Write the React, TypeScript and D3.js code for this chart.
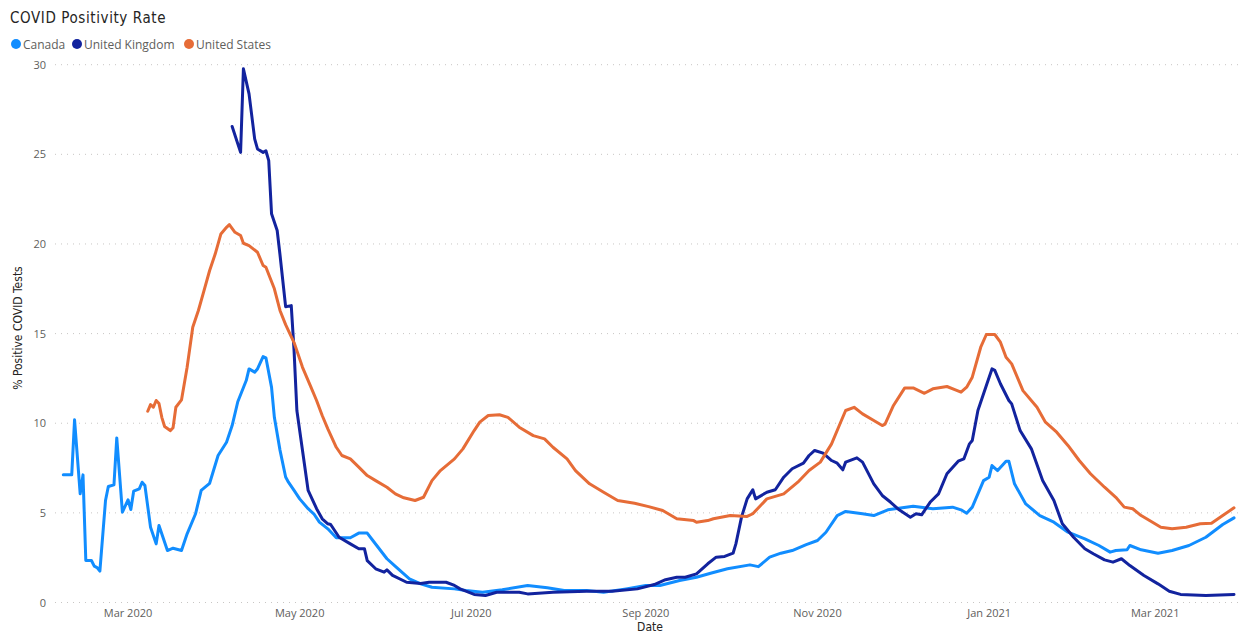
import React from "react";
import * as d3 from "d3";

// Daily positivity rate (% of COVID tests positive), smoothed series
const canadaRates: [string, number][] = [
  ["2020-02-07", 7.12], ["2020-02-10", 7.12], ["2020-02-11", 10.19], ["2020-02-13", 6.06],
  ["2020-02-14", 7.12], ["2020-02-15", 2.34], ["2020-02-17", 2.34], ["2020-02-18", 2.03],
  ["2020-02-19", 1.95], ["2020-02-20", 1.75], ["2020-02-22", 5.69], ["2020-02-23", 6.47],
  ["2020-02-25", 6.56], ["2020-02-26", 9.18], ["2020-02-28", 5.04], ["2020-03-01", 5.73],
  ["2020-03-02", 5.19], ["2020-03-03", 6.21], ["2020-03-05", 6.34], ["2020-03-06", 6.71],
  ["2020-03-07", 6.53], ["2020-03-09", 4.2], ["2020-03-11", 3.27], ["2020-03-12", 4.29],
  ["2020-03-15", 2.9], ["2020-03-17", 3.03], ["2020-03-20", 2.9], ["2020-03-22", 3.83],
  ["2020-03-25", 4.95], ["2020-03-27", 6.25], ["2020-03-30", 6.65], ["2020-04-02", 8.2],
  ["2020-04-05", 8.94], ["2020-04-07", 9.87], ["2020-04-09", 11.2], ["2020-04-12", 12.38],
  ["2020-04-13", 13.03], ["2020-04-15", 12.85], ["2020-04-16", 13.03], ["2020-04-18", 13.72],
  ["2020-04-19", 13.65], ["2020-04-21", 12.0], ["2020-04-22", 10.33], ["2020-04-24", 8.5],
  ["2020-04-26", 7.0], ["2020-04-27", 6.71], ["2020-04-29", 6.25], ["2020-05-01", 5.78],
  ["2020-05-04", 5.23], ["2020-05-06", 4.95], ["2020-05-08", 4.48], ["2020-05-11", 4.11],
  ["2020-05-14", 3.61], ["2020-05-19", 3.61], ["2020-05-22", 3.87], ["2020-05-25", 3.87],
  ["2020-05-27", 3.46], ["2020-06-01", 2.44], ["2020-06-04", 2.01], ["2020-06-09", 1.32],
  ["2020-06-13", 1.04], ["2020-06-17", 0.85], ["2020-06-25", 0.76], ["2020-06-29", 0.67],
  ["2020-07-05", 0.57], ["2020-07-12", 0.71], ["2020-07-21", 0.95], ["2020-07-28", 0.82],
  ["2020-08-03", 0.67], ["2020-08-11", 0.67], ["2020-08-17", 0.57], ["2020-08-25", 0.76],
  ["2020-09-01", 0.95], ["2020-09-06", 0.95], ["2020-09-13", 1.23], ["2020-09-19", 1.41],
  ["2020-09-24", 1.63], ["2020-09-30", 1.88], ["2020-10-08", 2.1], ["2020-10-11", 2.0],
  ["2020-10-15", 2.53], ["2020-10-19", 2.75], ["2020-10-23", 2.9], ["2020-10-28", 3.23],
  ["2020-11-01", 3.46], ["2020-11-04", 3.92], ["2020-11-08", 4.85], ["2020-11-11", 5.08],
  ["2020-11-17", 4.95], ["2020-11-21", 4.85], ["2020-11-26", 5.17], ["2020-12-05", 5.37],
  ["2020-12-12", 5.23], ["2020-12-19", 5.32], ["2020-12-22", 5.17], ["2020-12-24", 4.98],
  ["2020-12-26", 5.32], ["2020-12-30", 6.8], ["2021-01-01", 6.99], ["2021-01-02", 7.64],
  ["2021-01-04", 7.36], ["2021-01-07", 7.88], ["2021-01-08", 7.88], ["2021-01-10", 6.62],
  ["2021-01-14", 5.5], ["2021-01-19", 4.85], ["2021-01-24", 4.48], ["2021-01-29", 3.92],
  ["2021-02-04", 3.55], ["2021-02-09", 3.18], ["2021-02-13", 2.81], ["2021-02-15", 2.9],
  ["2021-02-19", 2.94], ["2021-02-20", 3.18], ["2021-02-24", 2.94], ["2021-03-02", 2.75],
  ["2021-03-07", 2.9], ["2021-03-13", 3.18], ["2021-03-19", 3.64], ["2021-03-25", 4.35],
  ["2021-03-29", 4.72],
];

const ukRates: [string, number][] = [
  ["2020-04-07", 26.55], ["2020-04-10", 25.11], ["2020-04-11", 29.77], ["2020-04-13", 28.37],
  ["2020-04-15", 25.86], ["2020-04-16", 25.3], ["2020-04-18", 25.11], ["2020-04-19", 25.2],
  ["2020-04-20", 24.65], ["2020-04-21", 21.68], ["2020-04-23", 20.75], ["2020-04-24", 19.4],
  ["2020-04-26", 16.5], ["2020-04-28", 16.56], ["2020-04-29", 14.05], ["2020-04-30", 10.71],
  ["2020-05-02", 8.48], ["2020-05-04", 6.25], ["2020-05-07", 5.23], ["2020-05-09", 4.67],
  ["2020-05-11", 4.39], ["2020-05-12", 4.35], ["2020-05-15", 3.64], ["2020-05-19", 3.27],
  ["2020-05-22", 3.0], ["2020-05-24", 3.0], ["2020-05-25", 2.34], ["2020-05-28", 1.88],
  ["2020-05-31", 1.69], ["2020-06-01", 1.82], ["2020-06-03", 1.51], ["2020-06-08", 1.13],
  ["2020-06-13", 1.06], ["2020-06-16", 1.13], ["2020-06-22", 1.13], ["2020-06-25", 0.95],
  ["2020-06-27", 0.76], ["2020-07-02", 0.45], ["2020-07-06", 0.39], ["2020-07-10", 0.57],
  ["2020-07-18", 0.57], ["2020-07-21", 0.48], ["2020-07-30", 0.57], ["2020-08-11", 0.63],
  ["2020-08-20", 0.63], ["2020-08-29", 0.76], ["2020-09-04", 1.0], ["2020-09-08", 1.27],
  ["2020-09-12", 1.41], ["2020-09-15", 1.41], ["2020-09-19", 1.6], ["2020-09-23", 2.16],
  ["2020-09-26", 2.53], ["2020-09-29", 2.57], ["2020-10-02", 2.75], ["2020-10-03", 3.27],
  ["2020-10-05", 4.76], ["2020-10-07", 5.78], ["2020-10-09", 6.29], ["2020-10-10", 5.78],
  ["2020-10-14", 6.15], ["2020-10-17", 6.29], ["2020-10-20", 6.99], ["2020-10-23", 7.46],
  ["2020-10-27", 7.77], ["2020-10-29", 8.2], ["2020-10-31", 8.48], ["2020-11-03", 8.33],
  ["2020-11-06", 7.92], ["2020-11-08", 7.77], ["2020-11-10", 7.4], ["2020-11-11", 7.83],
  ["2020-11-15", 8.07], ["2020-11-17", 7.83], ["2020-11-21", 6.62], ["2020-11-24", 5.97],
  ["2020-11-27", 5.59], ["2020-11-30", 5.17], ["2020-12-04", 4.76], ["2020-12-06", 4.95],
  ["2020-12-08", 4.89], ["2020-12-11", 5.59], ["2020-12-14", 6.06], ["2020-12-17", 7.18],
  ["2020-12-21", 7.88], ["2020-12-23", 8.01], ["2020-12-25", 8.85], ["2020-12-26", 9.04],
  ["2020-12-28", 10.71], ["2020-12-31", 12.1], ["2021-01-02", 13.03], ["2021-01-03", 12.95],
  ["2021-01-05", 12.2], ["2021-01-08", 11.27], ["2021-01-09", 11.08], ["2021-01-12", 9.59],
  ["2021-01-16", 8.57], ["2021-01-20", 6.8], ["2021-01-24", 5.69], ["2021-01-27", 4.39],
  ["2021-01-31", 3.64], ["2021-02-04", 3.0], ["2021-02-07", 2.72], ["2021-02-11", 2.38],
  ["2021-02-14", 2.25], ["2021-02-17", 2.44], ["2021-02-20", 2.06], ["2021-02-25", 1.51],
  ["2021-03-02", 1.04], ["2021-03-06", 0.63], ["2021-03-10", 0.45], ["2021-03-19", 0.39],
  ["2021-03-29", 0.45],
];

const usRates: [string, number][] = [
  ["2020-03-08", 10.67], ["2020-03-09", 11.04], ["2020-03-10", 10.89], ["2020-03-11", 11.27],
  ["2020-03-12", 11.1], ["2020-03-13", 10.33], ["2020-03-14", 9.82], ["2020-03-16", 9.59],
  ["2020-03-17", 9.75], ["2020-03-18", 10.89], ["2020-03-20", 11.3], ["2020-03-22", 13.12],
  ["2020-03-24", 15.35], ["2020-03-26", 16.29], ["2020-03-28", 17.4], ["2020-03-30", 18.52],
  ["2020-04-01", 19.45], ["2020-04-03", 20.56], ["2020-04-05", 20.93], ["2020-04-06", 21.08],
  ["2020-04-08", 20.65], ["2020-04-10", 20.47], ["2020-04-11", 20.04], ["2020-04-13", 19.91],
  ["2020-04-16", 19.54], ["2020-04-18", 18.8], ["2020-04-19", 18.7], ["2020-04-22", 17.5],
  ["2020-04-24", 16.29], ["2020-04-26", 15.5], ["2020-04-29", 14.5], ["2020-04-30", 14.05],
  ["2020-05-02", 13.12], ["2020-05-05", 12.01], ["2020-05-07", 11.27], ["2020-05-09", 10.43],
  ["2020-05-11", 9.69], ["2020-05-14", 8.66], ["2020-05-16", 8.2], ["2020-05-19", 8.01],
  ["2020-05-22", 7.55], ["2020-05-25", 7.08], ["2020-05-28", 6.8], ["2020-06-01", 6.43],
  ["2020-06-04", 6.06], ["2020-06-07", 5.84], ["2020-06-11", 5.69], ["2020-06-14", 5.87],
  ["2020-06-17", 6.8], ["2020-06-20", 7.36], ["2020-06-25", 8.01], ["2020-06-28", 8.57],
  ["2020-07-02", 9.59], ["2020-07-04", 10.06], ["2020-07-07", 10.43], ["2020-07-11", 10.47],
  ["2020-07-14", 10.33], ["2020-07-18", 9.78], ["2020-07-23", 9.31], ["2020-07-27", 9.13],
  ["2020-07-30", 8.66], ["2020-08-04", 8.01], ["2020-08-07", 7.36], ["2020-08-12", 6.62],
  ["2020-08-17", 6.15], ["2020-08-22", 5.69], ["2020-08-28", 5.54], ["2020-09-02", 5.35],
  ["2020-09-07", 5.13], ["2020-09-12", 4.67], ["2020-09-18", 4.57], ["2020-09-19", 4.48],
  ["2020-09-23", 4.57], ["2020-09-25", 4.67], ["2020-10-01", 4.85], ["2020-10-07", 4.8],
  ["2020-10-09", 4.95], ["2020-10-14", 5.78], ["2020-10-20", 6.06], ["2020-10-25", 6.71],
  ["2020-10-29", 7.36], ["2020-11-02", 7.83], ["2020-11-06", 8.85], ["2020-11-09", 9.97],
  ["2020-11-11", 10.71], ["2020-11-14", 10.89], ["2020-11-17", 10.52], ["2020-11-21", 10.15],
  ["2020-11-24", 9.87], ["2020-11-25", 9.95], ["2020-11-28", 10.99], ["2020-12-02", 11.97],
  ["2020-12-05", 11.97], ["2020-12-09", 11.67], ["2020-12-12", 11.92], ["2020-12-17", 12.05],
  ["2020-12-20", 11.86], ["2020-12-22", 11.73], ["2020-12-24", 12.01], ["2020-12-26", 12.57],
  ["2020-12-29", 14.24], ["2020-12-31", 14.95], ["2021-01-03", 14.95], ["2021-01-05", 14.52],
  ["2021-01-07", 13.68], ["2021-01-09", 13.31], ["2021-01-13", 11.82], ["2021-01-18", 10.89],
  ["2021-01-21", 10.06], ["2021-01-25", 9.5], ["2021-01-29", 8.76], ["2021-02-02", 7.92],
  ["2021-02-06", 7.18], ["2021-02-11", 6.43], ["2021-02-15", 5.87], ["2021-02-18", 5.32],
  ["2021-02-21", 5.23], ["2021-02-24", 4.85], ["2021-02-27", 4.57], ["2021-03-03", 4.2],
  ["2021-03-07", 4.11], ["2021-03-12", 4.2], ["2021-03-17", 4.39], ["2021-03-21", 4.42],
  ["2021-03-25", 4.85], ["2021-03-29", 5.28],
];

const seriesNames = ["Canada", "United Kingdom", "United States"];
const seriesColors = ["#118DFF", "#12239E", "#E66C37"];
const yTicks = [0, 5, 10, 15, 20, 25, 30];
const xTickDates = ["2020-03-01", "2020-05-01", "2020-07-01", "2020-09-01", "2020-11-01", "2021-01-01", "2021-03-01"];
const dateRange = ["2020-02-07", "2021-03-29"];

const W = 1241;
const H = 635;
const FONT = "'Segoe UI', 'Open Sans', sans-serif";
const CONDENSED = "'DejaVu Sans Condensed', 'Liberation Sans Narrow', sans-serif";

const parse = d3.timeParse("%Y-%m-%d");
const fmtTick = d3.timeFormat("%b %Y");

export default function App() {
  const x = d3
    .scaleTime()
    .domain(dateRange.map((d) => parse(d) as Date))
    .range([63.3, 1234]);
  const y = d3.scaleLinear().domain([0, 30]).range([602.5, 64.7]);

  const line = d3
    .line<[string, number]>()
    .x((d) => x(parse(d[0]) as Date))
    .y((d) => y(d[1]));

  const series = [canadaRates, ukRates, usRates];

  const legendX = [16, 77, 189];

  return (
    <svg
      width={W}
      height={H}
      style={{ position: "absolute", left: 0, top: 0, background: "#fff" }}
      fontFamily={FONT}
    >
      <text x={10} y={23} fontSize={15} fill="#252423" fontFamily={CONDENSED} letterSpacing={0.6}>
        COVID Positivity Rate
      </text>

      {seriesNames.map((name, i) => (
        <g key={name}>
          <circle cx={legendX[i]} cy={44} r={5} fill={seriesColors[i]} />
          <text x={legendX[i] + 7} y={48.5} fontSize={12} fill="#605E5C">
            {name}
          </text>
        </g>
      ))}

      {yTicks.map((t) => (
        <g key={t}>
          <line
            x1={55}
            x2={1241}
            y1={y(t)}
            y2={y(t)}
            stroke="#C8C6C4"
            strokeWidth={1}
            strokeDasharray="1 5"
          />
          <text x={46} y={y(t) + 4} fontSize={11} fill="#605E5C" textAnchor="end">
            {t}
          </text>
        </g>
      ))}

      {xTickDates.map((d) => {
        const dt = parse(d) as Date;
        return (
          <text key={d} x={x(dt)} y={617} fontSize={11} fill="#605E5C" textAnchor="middle">
            {fmtTick(dt)}
          </text>
        );
      })}

      <text x={650} y={631} fontSize={12} fill="#252423" textAnchor="middle" fontFamily={CONDENSED}>
        Date
      </text>
      <text
        transform={`translate(22,328) rotate(-90)`}
        fontSize={12}
        fill="#252423"
        textAnchor="middle"
        fontFamily={CONDENSED}
      >
        % Positive COVID Tests
      </text>

      {series.map((s, i) => (
        <path
          key={seriesNames[i]}
          d={line(s) || ""}
          fill="none"
          stroke={seriesColors[i]}
          strokeWidth={3}
          strokeLinejoin="round"
          strokeLinecap="round"
        />
      ))}
    </svg>
  );
}
